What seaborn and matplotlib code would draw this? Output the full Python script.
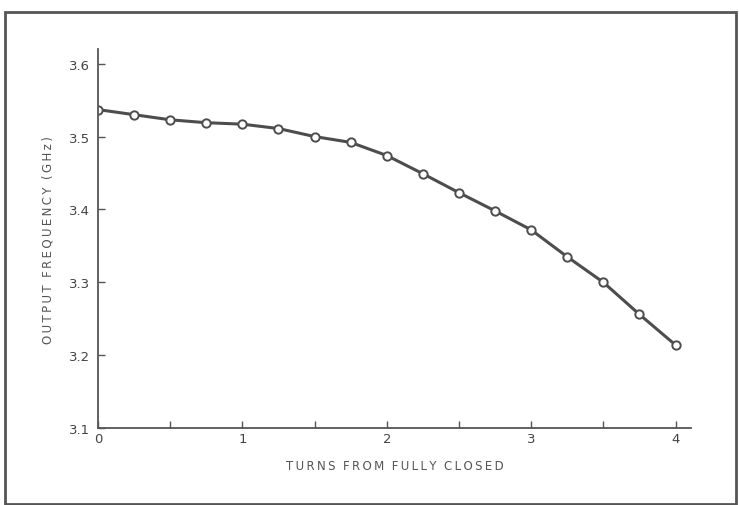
import numpy as np
import pandas as pd
import matplotlib.pyplot as plt
import seaborn as sns
from matplotlib.patches import Rectangle

turns = [0, 0.25, 0.5, 0.75, 1, 1.25, 1.5, 1.75, 2, 2.25, 2.5, 2.75, 3, 3.25, 3.5, 3.75, 4]
freq = [3.537, 3.530, 3.523, 3.519, 3.517, 3.511, 3.500, 3.492, 3.474, 3.449, 3.423, 3.398,
        3.372, 3.335, 3.300, 3.256, 3.214]
x_ticks = [0, 0.5, 1, 1.5, 2, 2.5, 3, 3.5, 4]
x_labels = ['0', '', '1', '', '2', '', '3', '', '4']
y_ticks = [3.1, 3.2, 3.3, 3.4, 3.5, 3.6]


def spaced(text):
    # letter-spaced caps like the typewritten original
    return '\u2009'.join(text).replace('\u2009 \u2009', '  ')


df = pd.DataFrame({'turns': turns, 'freq': freq})

sns.set_style('ticks')
plt.rcParams['font.family'] = ['DejaVu Sans']

fig = plt.figure(figsize=(7.39, 5.06), dpi=100)
ax = fig.add_axes([0.1326, 0.152, 0.803, 0.749])

# scanned page frame
fig.patches.append(Rectangle((5 / 739, 1 / 506), 731 / 739, 492 / 506, transform=fig.transFigure,
                             fill=False, edgecolor='#555555', linewidth=2.0))

sns.lineplot(data=df, x='turns', y='freq', ax=ax, color='#4d4d4d', linewidth=2.2,
             marker='o', markersize=6, markerfacecolor='white', markeredgecolor='#4d4d4d',
             markeredgewidth=1.4)

ax.set_xlim(0, 4.11)
ax.set_ylim(3.1, 3.62)
ax.set_xticks(x_ticks)
ax.set_xticklabels(x_labels)
ax.set_yticks(y_ticks)
ax.set_yticklabels([f'{v:.1f}' for v in y_ticks])
ax.tick_params(axis='both', direction='in', length=5, width=1, color='#555555',
               labelsize=9.5, labelcolor='#444444')
ax.tick_params(axis='y', pad=6)
ax.tick_params(axis='x', pad=3)
for s in ['top', 'right']:
    ax.spines[s].set_visible(False)
for s in ['left', 'bottom']:
    ax.spines[s].set_color('#555555')
    ax.spines[s].set_linewidth(1.3)

ax.set_xlabel(spaced('TURNS FROM FULLY CLOSED'), fontsize=8.5, color='#555555', labelpad=10)
ax.set_ylabel(spaced('OUTPUT FREQUENCY (GHz)'), fontsize=8.5, color='#555555', labelpad=10)

fig.savefig('out.png', dpi=100)
